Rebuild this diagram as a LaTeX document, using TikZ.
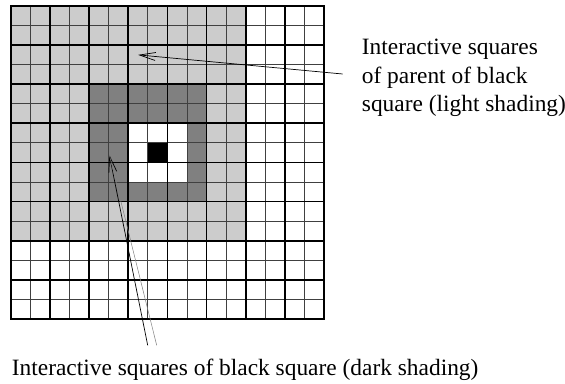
\documentclass[tikz,border=0pt]{standalone}
\usepackage{fontspec}
\setmainfont{Liberation Serif}
\usetikzlibrary{arrows.meta}
\definecolor{lightshade}{RGB}{204,204,204}
\definecolor{darkshade}{RGB}{128,128,128}

\begin{document}
\begin{tikzpicture}[x=1pt,y=-1pt,
  thingrid/.style={line width=0.8pt,color=black!75},
  thickgrid/.style={line width=1.8pt,line cap=rect},
  pointer/.style={line width=0.7pt,-{Straight Barb[length=16pt,width=8pt]}},
  lbl/.style={font=\fontsize{23.4}{28.3}\selectfont,inner sep=0pt,align=left}]
  \useasboundingbox (0,0) rectangle (565,383);
  \def\cs{19.55}

%quadtree grid:
  \begin{scope}[shift={(11,6)},x=\cs pt,y=-\cs pt]
    \fill[lightshade] (0,0) rectangle (12,12);
    \fill[darkshade] (4,4) rectangle (10,10);
    \fill[white] (6,6) rectangle (9,9);
    \fill[black] (7,7) rectangle (8,8);
    \foreach \i in {0,...,16}
      \draw[thingrid] (\i,0) -- (\i,16) (0,\i) -- (16,\i);
    \foreach \i in {0,2,...,16}
      \draw[thickgrid] (\i,0) -- (\i,16) (0,\i) -- (16,\i);
    \coordinate (tipA) at (6.5,2.5);
    \coordinate (tipB) at (5.03,7.62);
  \end{scope}
%%%%%%

  \node[lbl,anchor=west] (parentlbl) at (361.7,78) {Interactive squares\\of parent of black\\square (light shading)};
  \node[lbl,anchor=base west] (childlbl) at (11.7,375) {Interactive squares of black square (dark shading)};

  \draw[pointer] ([shift={(-19pt,4pt)}]parentlbl.west) -- (tipA);
  \draw[pointer] ([shift={(136pt,13pt)}]childlbl.north west) -- (tipB);
  \draw[line width=0.5pt,black!50] ([shift={(145pt,13pt)}]childlbl.north west) -- (tipB);

\end{tikzpicture}
\end{document}
